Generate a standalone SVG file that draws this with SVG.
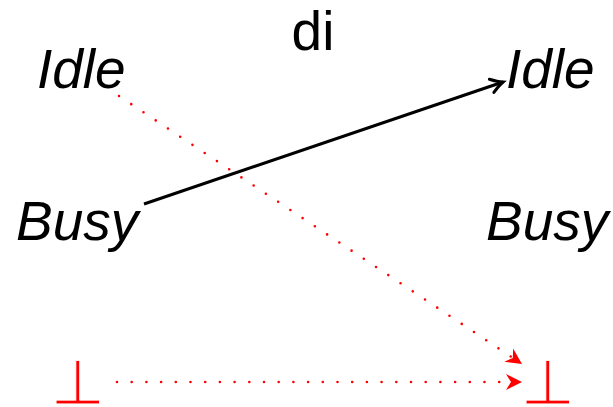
<svg xmlns="http://www.w3.org/2000/svg" width="613" height="407" viewBox="0 0 613 407">
<style>
.lbl{font-family:"Liberation Sans",Arial,sans-serif;font-size:55px;fill:#000}
.it{font-style:italic}
.bot{font-family:"DejaVu Sans",sans-serif;font-size:62px;fill:#ff0000;stroke:#fff;stroke-width:0.8}
.dot{fill:none;stroke:#ff0000;stroke-width:2.6;stroke-linecap:round;stroke-dasharray:0 14.7}
.solid{fill:none;stroke:#000;stroke-width:3}
</style>
<defs>
<marker id="redhead" markerUnits="userSpaceOnUse" markerWidth="24" markerHeight="24" refX="16" refY="8" orient="auto" viewBox="0 0 24 16">
<path d="M0,0 L16,8 L0,16 L5,8 Z" fill="#ff0000"/>
</marker>
<marker id="blackhead" markerUnits="userSpaceOnUse" markerWidth="24" markerHeight="24" refX="14" refY="8" orient="auto" viewBox="0 0 24 16">
<path d="M2,1 Q9,6 14,8 Q9,10 2,15" fill="none" stroke="#000" stroke-width="3" stroke-linecap="round"/>
</marker>
</defs>
<g id="title"><text class="lbl" x="313" y="50" text-anchor="middle">di</text></g>
<g id="idle-left"><text class="lbl it" x="37" y="88">Idle</text></g>
<g id="busy-left"><text class="lbl it" x="16" y="240">Busy</text></g>
<g id="idle-right"><text class="lbl it" x="506" y="88">Idle</text></g>
<g id="busy-right"><text class="lbl it" x="486" y="240">Busy</text></g>
<g id="bot-left"><text class="bot" x="78" y="404" text-anchor="middle">⊥</text></g>
<g id="bot-right"><text class="bot" x="548" y="404" text-anchor="middle">⊥</text></g>
<g id="connectors">
<line class="solid" x1="144" y1="204" x2="503" y2="82" marker-end="url(#blackhead)"/>
<line class="dot" x1="119" y1="96" x2="522" y2="364" marker-end="url(#redhead)"/>
<line class="dot" x1="117" y1="382" x2="522" y2="382" marker-end="url(#redhead)"/>
</g>
</svg>
